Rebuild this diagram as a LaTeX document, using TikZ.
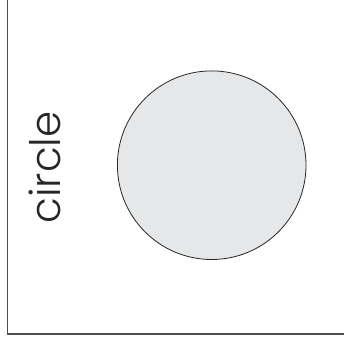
\documentclass[tikz,border=0pt]{standalone}
\usepackage{fontspec}
\setmainfont{Poppins Light}
\usetikzlibrary{positioning}
\definecolor{shapefill}{HTML}{E6E7E8}
\definecolor{framegray}{HTML}{4D4D4D}

\begin{document}
\begin{tikzpicture}[x=1pt,y=1pt]
  \useasboundingbox (0,0) rectangle (344,342);
  % frame: left and bottom edges only
  \draw[framegray,line width=1.4pt] (7.5,342) -- (7.5,8) -- (344,8);
  \node[circle,draw=black!85,fill=shapefill,line width=0.8pt,
        minimum size=188.6pt,inner sep=0pt] (disc) at (211.7,176.8) {};
  \node[rotate=90,anchor=base,font=\fontsize{42}{42}\selectfont,
        text=black!85] (lbl) at (60,174.5) {circle};
\end{tikzpicture}
\end{document}
